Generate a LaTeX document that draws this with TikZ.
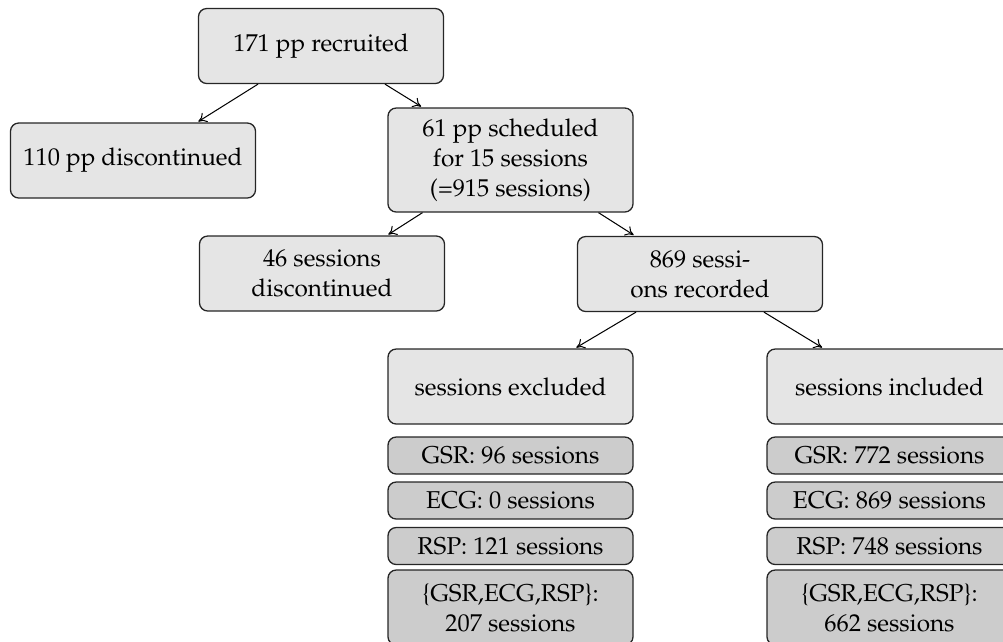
\documentclass[tikz,border=0pt]{standalone}
\usepackage[T1]{fontenc}
\usepackage{mathpazo}
\usetikzlibrary{arrows.meta}
\newcommand\pxu{0.39pt}
\tikzset{
  big/.style={draw=black!85, fill=gray!20, rounded corners=3.2pt, minimum width={245*\pxu}, minimum height={75*\pxu}, align=center, inner sep=0pt, line width=0.5pt, font=\fontsize{9.5}{11.7}\selectfont},
  small/.style={big, fill=gray!40, minimum height={37*\pxu}},
  arr/.style={-{To[length=3.2pt,width=4.2pt]}, line width=0.4pt, shorten >=0.6pt}
}
\begin{document}
\begin{tikzpicture}[x=\pxu, y=-\pxu]
\useasboundingbox (0,0) rectangle (1003,641);
\clip (0,0) rectangle (1003,641);
\node[big] (top) at (321,46) {171 pp recruited};
\node[big] (d110) at (133,160.5) {110 pp discontinued};
\node[big, minimum height={104*\pxu}] (sched) at (510.5,160) {61 pp scheduled\\for 15 sessions\\(=915 sessions)};
\node[big] (d46) at (322,273.5) {46 sessions\\discontinued};
\node[big] (rec) at (700,274) {869 sessi-\\ons recorded};
\node[big] (excl) at (510.5,386.5) {sessions excluded};
\node[big] (incl) at (889.5,386.5) {sessions included};
\node[small] (eg) at (510.5,455.5) {GSR: 96 sessions};
\node[small] (ee) at (510.5,500.5) {ECG: 0 sessions};
\node[small] (er) at (510.5,546) {RSP: 121 sessions};
\node[small, minimum height={75*\pxu}] (ea) at (510.5,607.5) {\{GSR,ECG,RSP\}:\\207 sessions};
\node[small] (ig) at (889.5,455.5) {GSR: 772 sessions};
\node[small] (ie) at (889.5,500.5) {ECG: 869 sessions};
\node[small] (ir) at (889.5,546) {RSP: 748 sessions};
\node[small, minimum height={75*\pxu}] (ia) at (889.5,607.5) {\{GSR,ECG,RSP\}:\\662 sessions};
\draw[arr] ([xshift={-63*\pxu}]top.south) -- ([xshift={64*\pxu}]d110.north);
\draw[arr] ([xshift={64*\pxu}]top.south) -- ([xshift={-88*\pxu}]sched.north);
\draw[arr] ([xshift={-88*\pxu}]sched.south) -- ([xshift={65*\pxu}]d46.north);
\draw[arr] ([xshift={88*\pxu}]sched.south) -- ([xshift={-65*\pxu}]rec.north);
\draw[arr] ([xshift={-64*\pxu}]rec.south) -- ([xshift={64.5*\pxu}]excl.north);
\draw[arr] ([xshift={64*\pxu}]rec.south) -- ([xshift={-66*\pxu}]incl.north);
\end{tikzpicture}
\end{document}
